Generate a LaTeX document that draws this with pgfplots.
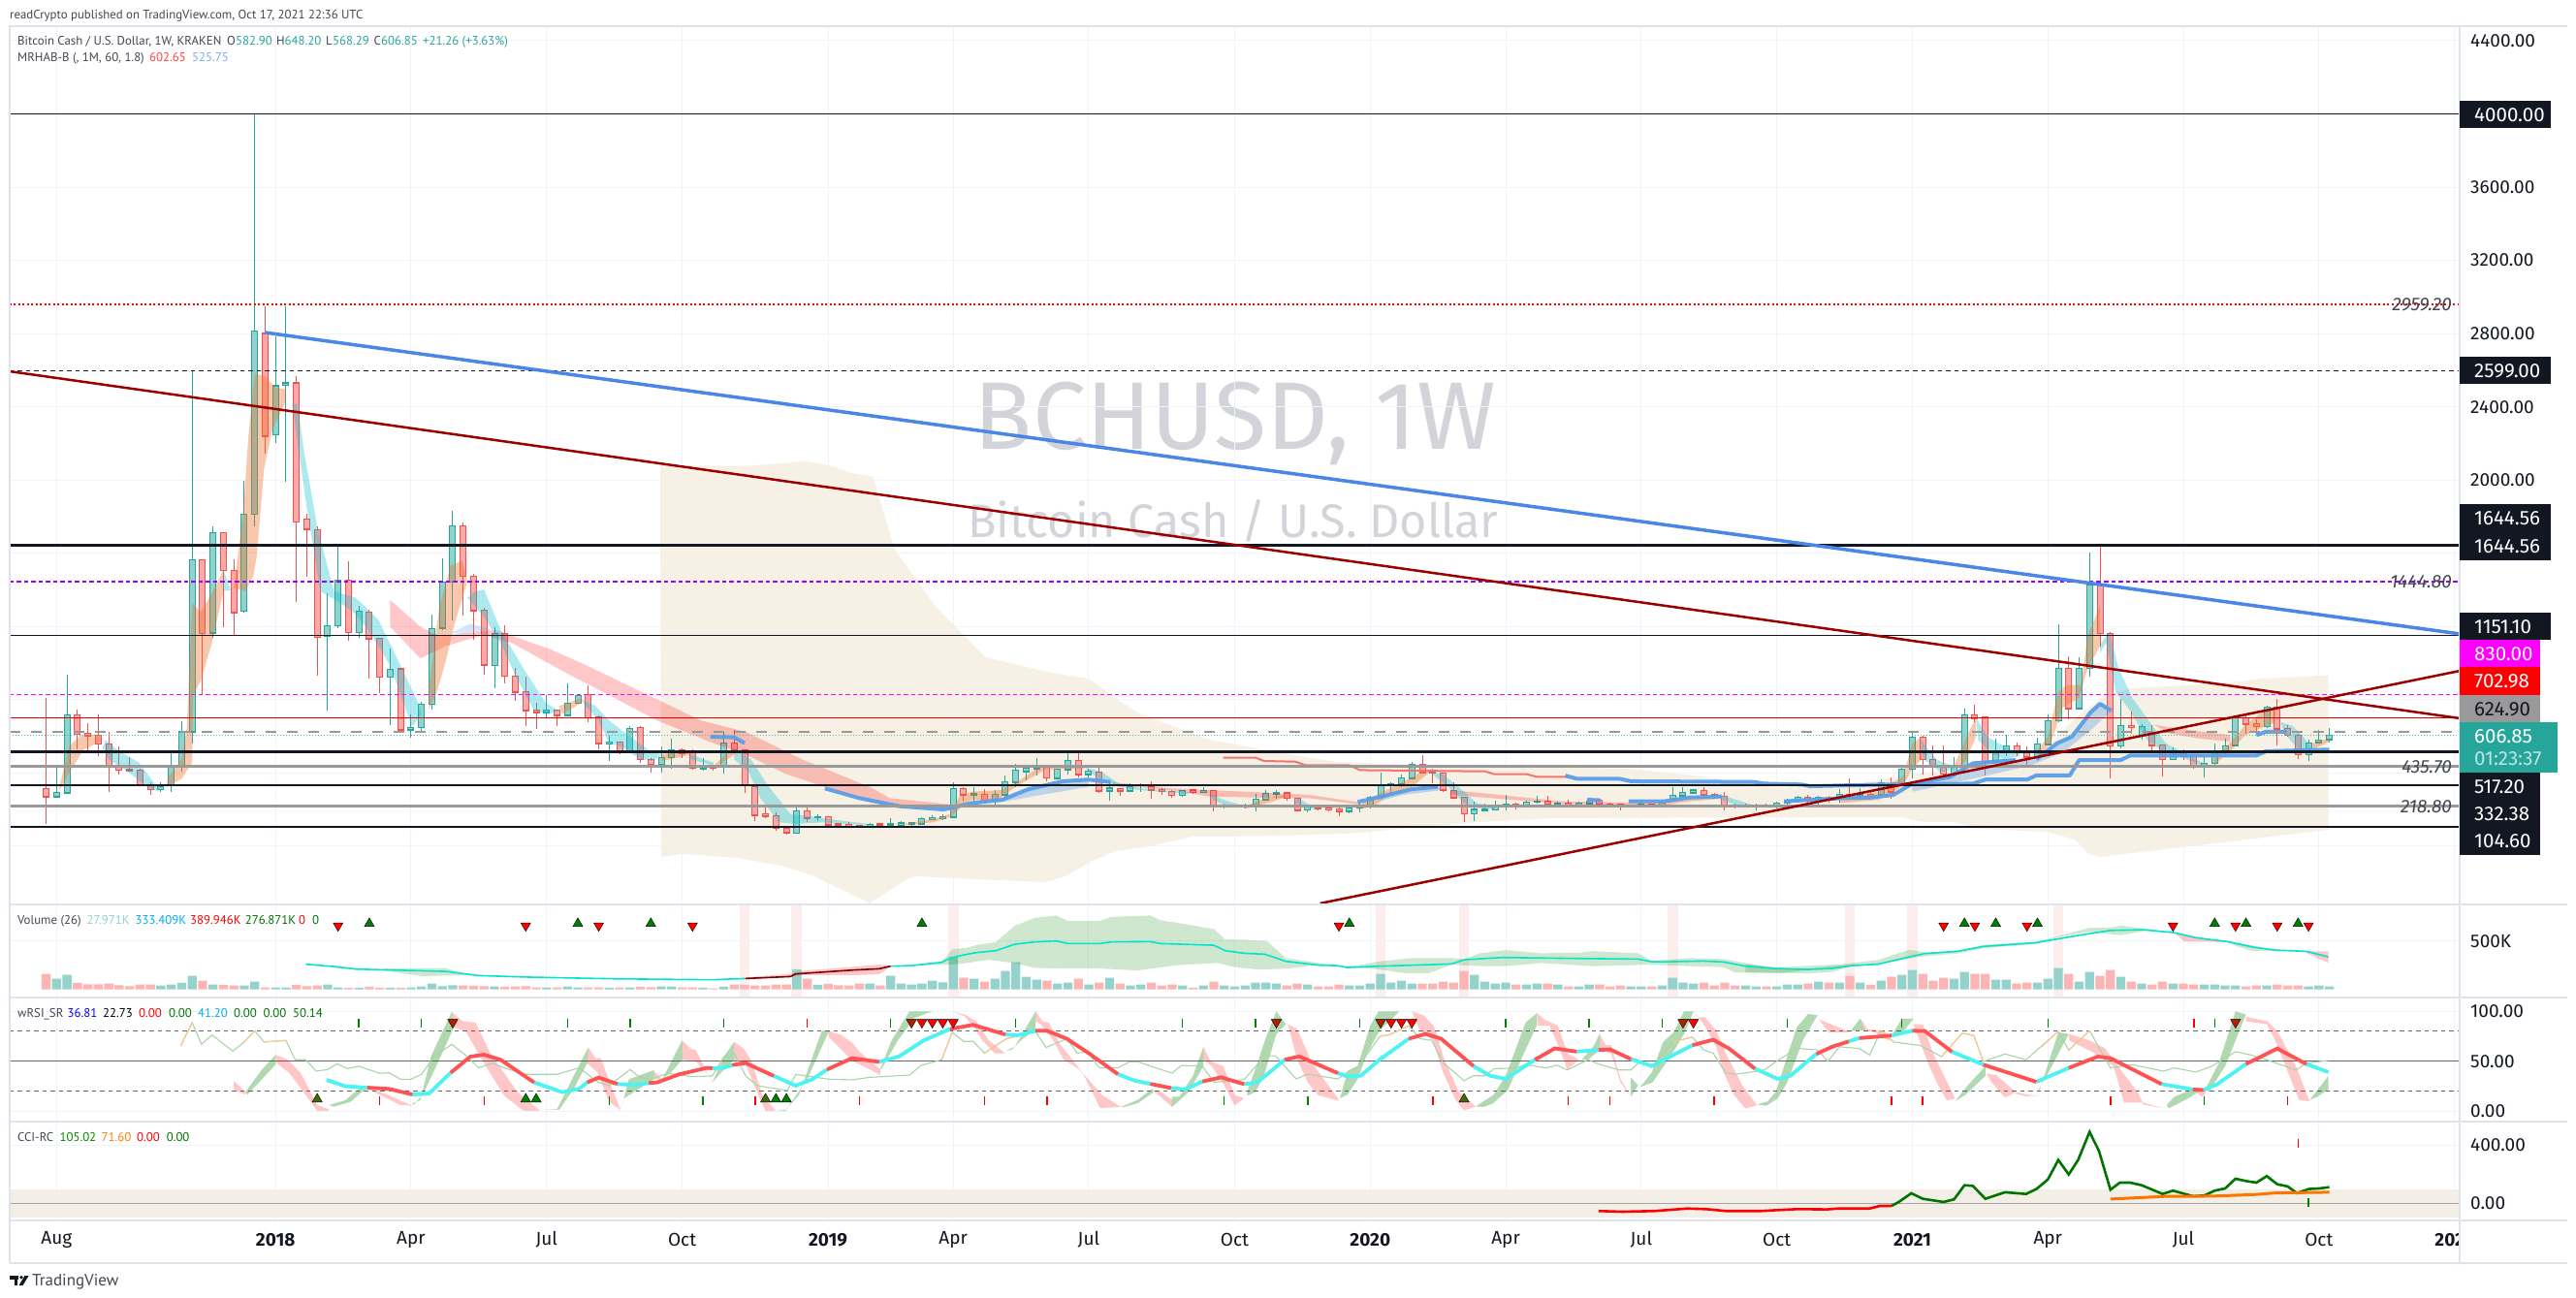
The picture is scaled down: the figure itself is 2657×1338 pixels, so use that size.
\documentclass[border=0pt]{standalone}
\usepackage{pgfplots}
\usepackage{pgfplotstable}
\usepackage{fontspec}
\pgfplotsset{compat=1.18}
\setmainfont{Fira Sans}
\newfontfamily\lgfont{PT Sans}
\definecolor{gridc}{HTML}{F0F3FA}
\definecolor{framec}{HTML}{E0E3EB}
\definecolor{tvg}{HTML}{26A69A}
\definecolor{tvr}{HTML}{EF5350}
\definecolor{bodyg}{HTML}{92D2CC}
\definecolor{bodyr}{HTML}{F9A9A8}
\definecolor{volg}{HTML}{94D2CB}
\definecolor{volr}{HTML}{FBB5B5}
\definecolor{ink}{HTML}{131722}
\definecolor{txt}{HTML}{434651}
\definecolor{orb}{RGB}{240,110,40}
\definecolor{cyb}{RGB}{0,190,210}
\definecolor{blu}{HTML}{5B9EE8}
\definecolor{maroon}{HTML}{9B0000}
\definecolor{tblue}{HTML}{4A86E8}
\definecolor{cloud}{HTML}{F6EFE3}
\definecolor{grline}{HTML}{999999}
\definecolor{rcy}{HTML}{4DF2F2}
\definecolor{rrd}{HTML}{FF5252}
\definecolor{thing}{HTML}{A9D4A9}
\definecolor{olive}{HTML}{3F6A10}
\definecolor{dkr}{HTML}{B02000}
\definecolor{wm}{HTML}{D2D4DA}
\definecolor{stripe}{HTML}{FDEEEE}
\definecolor{cciband}{HTML}{F3EFE7}
\definecolor{purp}{RGB}{155,0,255}
\definecolor{magn}{RGB}{255,0,255}
\definecolor{lred}{RGB}{225,0,0}
\definecolor{macy}{RGB}{0,229,204}

\pgfplotstableread{
i s t b h l v
0 0 316 272 810 122 160
1 1 295 272 431 267 110
2 1 719 293 937 288 150
3 0 719 613 747 528 67
4 0 618 606 673 519 53
5 0 607 560 722 493 53
6 0 560 436 625 298 60
7 0 436 417 546 394 43
8 0 419 413 489 410 33
9 0 417 336 422 334 50
10 0 337 311 351 281 50
11 1 325 311 348 298 40
12 1 443 334 510 298 50
13 1 625 443 683 410 67
14 1 1566 625 2599 563 140
15 0 1566 1163 1566 828 90
16 1 1714 1167 1746 1137 50
17 0 1714 1508 1714 1199 47
18 0 1508 1278 1569 1149 40
19 1 1815 1285 1996 1276 40
20 1 2812 1815 4000 1749 80
21 0 2801 2240 2950 2146 20
22 1 2515 2249 2785 2205 20
23 1 2531 2520 2949 1993 20
24 0 2531 1772 2568 1336 47
25 0 1788 1733 1816 1472 33
26 0 1730 1142 1746 934 40
27 1 1206 1149 1380 743 50
28 1 1455 1206 1640 1193 20
29 0 1455 1169 1557 1125 17
30 1 1285 1169 1313 1137 17
31 0 1280 1135 1292 916 27
32 0 1137 925 1137 837 17
33 1 967 925 1080 664 17
34 0 969 637 973 630 17
35 1 650 637 720 595 20
36 1 777 650 789 630 30
37 1 1190 777 1266 749 60
38 1 1444 1193 1573 1181 33
39 1 1751 1444 1832 1234 43
40 0 1751 1476 1769 1260 40
41 0 1476 1289 1486 1128 37
42 0 1290 992 1305 937 33
43 1 1163 989 1195 863 30
44 0 1163 930 1207 890 27
45 0 930 844 974 794 30
46 0 846 743 927 659 33
47 0 745 733 784 641 20
48 1 745 733 828 699 20
49 0 745 717 745 657 20
50 1 782 717 890 712 30
51 1 824 782 824 779 20
52 0 830 703 879 678 20
53 0 708 563 713 531 20
54 1 570 563 607 466 17
55 0 570 517 570 501 20
56 1 644 521 657 517 20
57 0 650 475 657 454 27
58 0 475 447 484 404 23
59 1 486 447 546 404 30
60 1 528 486 590 422 30
61 0 528 510 533 484 20
62 0 510 427 531 417 20
63 1 431 426 484 413 17
64 0 431 427 440 415 10
65 1 565 440 625 399 27
66 0 565 528 634 519 50
67 0 528 334 528 293 47
68 0 325 171 325 140 40
69 0 178 166 210 152 40
70 0 166 101 184 87 50
71 0 97 76 97 66 50
72 1 194 72 228 69 207
73 0 194 155 210 134 110
74 1 162 157 175 139 47
75 0 161 118 166 113 57
76 0 122 116 127 111 43
77 0 120 113 131 108 40
78 0 115 111 118 108 60
79 1 120 111 125 108 60
80 0 122 118 124 113 40
81 1 122 118 154 116 140
82 1 127 118 139 115 60
83 1 127 122 134 111 50
84 1 152 124 157 116 60
85 1 157 150 171 146 90
86 1 162 155 175 143 73
87 1 316 161 348 157 333
88 0 316 282 325 249 120
89 1 286 282 325 245 110
90 0 284 252 312 236 80
91 1 284 252 307 224 110
92 1 353 281 386 272 190
93 1 417 351 448 325 280
94 1 429 409 443 360 130
95 1 436 425 482 386 100
96 0 431 374 443 355 90
97 1 420 372 425 365 60
98 1 469 420 510 394 70
99 0 469 394 510 378 110
100 1 411 394 425 376 50
101 0 406 304 429 293 70
102 1 318 304 355 249 120
103 0 316 304 319 277 60
104 1 328 304 342 298 40
105 1 337 332 342 298 50
106 0 328 309 355 259 70
107 0 312 300 319 281 40
108 0 300 279 307 266 50
109 1 305 279 307 272 40
110 0 307 298 312 288 17
111 1 305 298 323 295 40
112 0 305 219 307 191 80
113 1 222 217 235 206 40
114 1 222 217 225 210 30
115 1 221 217 231 205 40
116 1 258 217 284 191 70
117 1 289 256 307 249 70
118 1 291 288 307 259 60
119 0 291 263 298 251 40
120 0 263 198 266 189 60
121 1 214 199 228 187 50
122 0 210 206 222 196 30
123 0 210 201 214 192 30
124 0 206 192 210 166 50
125 1 210 192 219 178 40
126 1 215 210 231 187 40
127 1 268 215 277 206 60
128 1 337 268 402 263 160
129 1 342 334 351 291 70
130 1 374 341 394 325 90
131 1 448 372 461 365 60
132 0 448 404 498 395 60
133 0 408 402 422 344 60
134 0 401 307 404 298 80
135 0 305 266 348 259 70
136 0 268 178 272 134 190
137 1 201 178 242 139 150
138 1 201 198 231 192 80
139 1 224 199 249 196 60
140 1 231 224 281 196 70
141 0 231 222 238 203 50
142 1 242 222 249 210 50
143 1 247 242 275 235 60
144 0 247 231 275 224 60
145 1 236 231 245 222 50
146 0 236 224 254 219 30
147 1 236 222 245 217 30
148 1 245 235 263 231 50
149 0 251 231 258 222 50
150 0 231 222 236 215 30
151 0 228 222 231 196 40
152 1 224 221 228 210 30
153 1 231 222 236 214 30
154 0 228 222 231 217 30
155 1 236 224 245 219 40
156 1 279 254 321 242 120
157 1 295 277 323 270 70
158 1 307 293 312 284 60
159 0 305 282 321 266 70
160 0 281 277 289 259 40
161 0 274 224 295 196 70
162 0 226 221 231 206 40
163 1 226 221 231 215 40
164 1 226 222 231 196 30
165 0 226 221 231 212 30
166 1 236 221 242 206 30
167 1 252 236 259 228 50
168 1 268 251 275 242 50
169 0 268 258 281 236 60
170 1 268 254 274 219 80
171 0 268 254 277 236 70
172 1 284 263 312 236 70
173 0 284 277 369 259 140
174 1 286 281 316 254 70
175 0 284 272 298 263 47
176 1 348 284 365 272 90
177 0 342 298 378 259 130
178 1 422 342 443 337 150
179 1 597 422 625 369 200
180 0 597 475 602 390 160
181 0 475 439 551 386 90
182 0 439 395 549 386 120
183 1 443 395 489 392 110
184 1 718 443 754 439 180
185 0 718 701 775 678 160
186 0 704 457 708 386 160
187 1 517 461 589 457 100
188 1 549 517 607 492 100
189 0 549 519 567 492 60
190 0 519 489 545 439 70
191 1 559 492 595 475 70
192 1 687 558 718 554 110
193 1 972 687 1213 678 220
194 0 972 754 1040 695 160
195 1 972 754 1031 748 80
196 1 1428 972 1604 925 180
197 0 1428 1163 1640 1092 140
198 0 1163 549 1172 372 200
199 1 660 549 805 537 130
200 0 660 651 736 616 80
201 1 655 607 669 581 60
202 0 616 552 660 519 50
203 0 554 475 554 383 80
204 1 521 475 542 471 60
205 0 519 492 528 470 60
206 0 496 436 501 425 50
207 1 454 436 492 378 50
208 1 519 454 563 447 50
209 1 549 519 589 510 40
210 1 701 552 713 545 40
211 0 701 669 718 616 30
212 0 669 655 695 607 40
213 1 761 655 766 648 40
214 0 761 642 805 549 50
215 0 642 607 660 598 40
216 0 607 501 616 475 40
217 1 563 501 581 466 30
218 1 581 567 634 563 40
219 1 607 583 648 568 30
}\ohlc

\pgfplotsset{
 tv/.style={scale only axis,width=2527pt,xmin=-3.497,xmax=231.5,
  xtick={1,22,35,48,61,75,87,100,114,127,140,153,166,179,192,205,218,231},
  xticklabels={},grid=major,grid style={draw=gridc,line width=1pt},
  major tick length=0pt,tick style={draw=none},
  axis line style={draw=framec,line width=1.5pt},
  yticklabel pos=right,
  yticklabel style={anchor=west,inner sep=0pt,xshift=11pt,text=ink,font=\fontsize{19}{21}\selectfont},
  clip=true},
 orr/.style={draw=none,fill=orb,fill opacity=.38},
 cyr/.style={draw=none,fill=cyb,fill opacity=.32},
 pkr/.style={draw=none,fill=red,fill opacity=.22},
 blr/.style={color=blu,line width=4pt,opacity=.95,line join=round},
 shd/.style={draw=none,fill=blu,fill opacity=.35},
 gr/.style={draw=none,fill=green!50!black,fill opacity=.3},
 vgr/.style={draw=none,fill=green!50!black,fill opacity=.19},
 rr/.style={draw=none,fill=red,fill opacity=.22},
 tup/.style={only marks,mark=triangle*,mark size=6pt,mark options={draw=none,fill=#1}},
 tdn/.style={only marks,mark=triangle*,mark size=6pt,mark options={draw=none,fill=#1,rotate=180}},
 tic/.style={only marks,mark=|,mark size=4.5pt,mark options={draw=#1,line width=1.5pt}},
 cbar/.style 2 args={draw=none,mark=none,error bars/.cd,y dir=both,y explicit,error mark=none,error bar style={draw=#1,line width=#2}},
}
\newcommand{\isG}{{\thisrow{s}==1 ? \thisrow{i} : nan}}
\newcommand{\isR}{{\thisrow{s}==0 ? \thisrow{i} : nan}}
\newcommand{\T}[4]{\node[anchor=base west,inner sep=0pt,text=#3] at (#1,{1338-#2-5}) {#4};}
\newcommand{\TagT}[5]{\fill[#3] (2537,{1338-#1-14.25}) rectangle ++(#2,28.5);
 \node[anchor=base west,inner sep=0pt,text=#4,font=\fontsize{20.5}{22}\selectfont] at (2552,{1338-#1-7.3}) {#5};}
\newcommand{\Ital}[2]{\node[anchor=base east,inner sep=0pt,text=txt,font=\fontsize{19}{21}\selectfont\itshape] at (2529,{1338-#1-7}) {#2};}

\begin{document}
\begin{tikzpicture}[x=1pt,y=1pt]
\path[use as bounding box] (0,0) rectangle (2657,1338);
\fill[white] (0,0) rectangle (2657,1338);
% watermark
\node[text=wm,font=\fontsize{99}{110}\selectfont] at (1274,{1338-437}) {BCHUSD, 1W};
\node[text=wm,font=\fontsize{48.5}{52}\selectfont] at (1272,{1338-537}) {Bitcoin Cash / U.S. Dollar};

%====== MAIN PANE
\begin{axis}[tv,at={(10pt,405pt)},anchor=south west,height=906pt,ymin=-317.7,ymax=4479.5,
 ytick={0,400,...,4400},
 yticklabels={,,,,,2000.00,2400.00,2800.00,3200.00,3600.00,,4400.00}]
% cloud
\addplot[draw=none,fill=cloud,fill opacity=.9] coordinates {(58.9,2081)(67.1,2077)(73,2102)(75.1,2081)(77.2,2038)(79.3,2019)(81.4,1620)(85.4,1303)(90.1,1033)(96.4,948)(100,916)(102.9,794)(105,722)(111.6,582)(115,546)(121.1,483)(123.9,461)(128.9,450)(138,440)(151.8,424)(157.9,387)(165.5,325)(172.3,320)(179,397)(185.3,424)(190.9,503)(192,545)(194.7,704)(197.4,821)(200,863)(205.9,881)(210.4,900)(212.7,916)(218.9,934)(218.9,90)(197,-58)(195.8,-37)(194.7,33)(192,79)(185.3,95)(183,132)(179.7,134)(178.1,159)(172.3,159)(170.4,159)(144.7,154)(137.3,132)(124.8,69)(116.5,55)(110,53)(105.8,0)(102.5,-26)(100,-90)(97.9,-159)(95.9,-196)(87.2,-175)(83.4,-164)(82.6,-178)(79,-311)(73.5,-159)(70.5,-106)(66.4,-64)(61,-41)(59,-58)} --cycle;
% candles: wicks
\addplot[cbar={tvg}{1pt}] table[x expr=\isG,y=l,y error plus expr=\thisrow{h}-\thisrow{l},y error minus expr=0]{\ohlc};
\addplot[cbar={tvr}{1pt}] table[x expr=\isR,y=l,y error plus expr=\thisrow{h}-\thisrow{l},y error minus expr=0]{\ohlc};
% candles: body edge
\addplot[cbar={tvg}{7pt}] table[x expr=\isG,y=b,y error plus expr=\thisrow{t}-\thisrow{b}+3,y error minus expr=3]{\ohlc};
\addplot[cbar={tvr}{7pt}] table[x expr=\isR,y=b,y error plus expr=\thisrow{t}-\thisrow{b}+3,y error minus expr=3]{\ohlc};
% candles: body fill
\addplot[cbar={bodyg}{5pt}] table[x expr=\isG,y expr=\thisrow{b}+3,y error plus expr={max(\thisrow{t}-\thisrow{b}-6,0)},y error minus expr=0]{\ohlc};
\addplot[cbar={bodyr}{5pt}] table[x expr=\isR,y expr=\thisrow{b}+3,y error plus expr={max(\thisrow{t}-\thisrow{b}-6,0)},y error minus expr=0]{\ohlc};
% pink ribbons
\addplot[pkr] coordinates {(33,1345)(35.9,1199)(37.7,1146)(39.9,1163)(43.1,1181)(48.4,1075)(52.2,978)(58.6,802)(62.8,687)(67.1,625)(72.5,475)(79.3,316)(80.9,263)(86.7,228)(85.9,210)(82.6,210)(79.3,236)(70.9,396)(67.1,501)(64,563)(58.6,687)(54.8,802)(50,943)(44.7,1110)(42,1155)(38.3,1093)(35.9,1026)(33,1199)} --cycle;
\addplot[pkr] coordinates {(102.1,351)(107.9,316)(116.2,295)(121.1,281)(126,240)(126,228)(121.1,263)(116.2,266)(111.6,272)(107.9,307)(102.5,334)} --cycle;
\addplot[pkr] coordinates {(134.7,307)(138,289)(145.5,245)(154.7,236)(154.7,224)(145.5,231)(138,266)(134.7,281)} --cycle;
\addplot[pkr] coordinates {(202.1,665)(204.6,642)(209.5,607)(209.5,572)(206.4,589)(203.7,616)} --cycle;
% orange ribbons
\addplot[orr] coordinates {(1.2,307)(2.2,546)(3.3,607)(5.2,607)(5.2,572)(3.6,528)(2.8,457)(1.2,298)} --cycle;
\addplot[orr] coordinates {(11.6,369)(13,475)(13.5,652)(14,1331)(14.8,1278)(16,1393)(17,1508)(17,1393)(15.9,1110)(14.8,899)(14.1,828)(14,457)(13,369)(11.6,325)} --cycle;
\addplot[orr] coordinates {(18,1410)(18.9,1816)(19.4,2240)(20,2584)(21,2567)(22,2505)(23,2496)(23,2434)(21.7,2275)(20.9,2063)(20.2,1587)(19.9,1481)(19.1,1393)} --cycle;
\addplot[orr] coordinates {(36.7,863)(37.7,1305)(38.8,1534)(39.9,1560)(40.4,1446)(39.1,1199)(38.3,1005)(37.5,846)(36.7,749)} --cycle;
\addplot[orr] coordinates {(49.2,766)(51.4,810)(51.4,784)(49.5,722)} --cycle;
\addplot[orr] coordinates {(59,501)(61.8,519)(61.8,501)(59.1,466)} --cycle;
\addplot[orr] coordinates {(64.2,449)(66,546)(66,501)(64.2,431)} --cycle;
\addplot[orr] coordinates {(80.9,122)(82.6,125)(85.1,148)(86.7,175)(87.6,272)(88.8,298)(91.7,307)(93.4,360)(95,425)(97.5,439)(99.2,439)(99.6,422)(97.5,422)(95.9,422)(94.6,378)(93,325)(91.3,254)(88.8,254)(88,228)(86.9,166)(85.1,131)(82.6,118)} --cycle;
\addplot[orr] coordinates {(115,219)(116.6,254)(118.7,281)(118.7,263)(116.6,228)(115,206)} --cycle;
\addplot[orr] coordinates {(125.8,219)(127,263)(128.9,316)(130.8,369)(132,413)(132.7,404)(131,325)(128.9,281)(127.3,219)(125.8,201)} --cycle;
\addplot[orr] coordinates {(154.7,236)(158,272)(160.5,272)(160.5,259)(157.6,245)(155.1,224)} --cycle;
\addplot[orr] coordinates {(172.1,254)(175.8,298)(176.8,342)(178.1,378)(179,563)(179.7,589)(179.9,475)(179,422)(178.1,334)(176.8,281)(175.8,254)(172.1,236)} --cycle;
\addplot[orr] coordinates {(183,439)(184.2,598)(185.1,704)(185.1,598)(184.2,475)(183.5,422)} --cycle;
\addplot[orr] coordinates {(190.9,519)(192,598)(193,845)(193.8,881)(195.2,881)(195.8,1145)(197,1313)(197,1093)(195.8,969)(195,810)(193.4,757)(192.3,563)(191.1,492)} --cycle;
\addplot[orr] coordinates {(208,475)(210,598)(210.9,660)(212.7,740)(213.8,757)(213.8,678)(212.7,651)(210.9,607)(209.5,519)(208,448)} --cycle;
\addplot[orr] coordinates {(217.4,563)(219,589)(219,572)(217.4,528)} --cycle;
% cyan ribbons
\addplot[cyr] coordinates {(5.7,581)(7,519)(8.9,457)(10.5,334)(10.8,298)(9.7,325)(7.9,404)(6,475)(5.4,537)} --cycle;
\addplot[cyr] coordinates {(17,1508)(17.7,1400)(17,1393)} --cycle;
\addplot[cyr] coordinates {(24.1,2416)(24.8,2134)(26,1746)(27.6,1393)(29.7,1358)(31.9,1234)(33.7,1022)(35.6,793)(36,722)(35.1,652)(33,987)(31.1,1163)(29.7,1269)(27.9,1340)(26.3,1393)(24.9,1887)(23.6,2416)} --cycle;
\addplot[cyr] coordinates {(41.2,1393)(42,1402)(43.6,1181)(45.8,969)(47.9,784)(49.2,740)(48.2,722)(46.8,740)(45,934)(43.6,1110)(42,1252)(40.4,1358)} --cycle;
\addplot[cyr] coordinates {(51.4,802)(52.7,766)(54,687)(56,599)(58,519)(59,501)(58.3,466)(57,475)(55.1,546)(54,563)(53,687)(51.6,775)} --cycle;
\addplot[cyr] coordinates {(61.8,501)(64,457)(64,440)(61.8,475)} --cycle;
\addplot[cyr] coordinates {(66,537)(67.6,475)(69.2,334)(71.4,175)(73,166)(75.1,148)(78.9,122)(78.9,113)(74.6,131)(71.9,122)(70.3,131)(68.5,263)(67.4,404)(66,475)} --cycle;
\addplot[cyr] coordinates {(99.6,431)(101.3,404)(102.9,342)(105,316)(109.6,295)(109.6,284)(105,307)(102.9,325)(101.3,351)(100,413)} --cycle;
\addplot[cyr] coordinates {(111.6,289)(112.9,254)(115,219)(115,210)(112.9,228)(111.9,254)} --cycle;
\addplot[cyr] coordinates {(120,266)(121.9,201)(121.9,196)(119.8,236)} --cycle;
\addplot[cyr] coordinates {(132,413)(133.9,395)(136,298)(137.2,236)(138.9,219)(138.9,201)(137.2,210)(136,236)(134.3,334)(132.9,395)} --cycle;
\addplot[cyr] coordinates {(160.5,284)(162.1,254)(163.8,224)(165.5,214)(165.5,210)(162.1,224)(160.5,259)} --cycle;
\addplot[cyr] coordinates {(179.7,589)(181.3,475)(182,457)(183,439)(183,422)(181.7,404)(180.1,475)} --cycle;
\addplot[cyr] coordinates {(185.1,704)(186.2,598)(187.8,545)(189.3,510)(189.3,492)(187.8,475)(186.6,510)(185.3,581)} --cycle;
\addplot[cyr] coordinates {(197,1101)(197.9,1172)(198.8,969)(200.1,810)(201.9,669)(203.3,563)(205,510)(206.8,457)(206.8,439)(204.6,492)(202.8,528)(201.5,581)(199.9,740)(198.5,845)(197.6,1110)(197,1057)} --cycle;
\addplot[cyr] coordinates {(214.3,678)(215.4,660)(216.5,598)(217.4,528)(216.7,510)(215.8,545)(214.7,616)} --cycle;
% blue shades
\addplot[draw=none,fill=blu,fill opacity=.25] coordinates {(38.8,1163)(40.7,1216)(42.8,1181)(39.9,1163)} --cycle;
\addplot[shd] coordinates {(179,342)(182.6,378)(184.8,453)(188.9,471)(190.9,475)(192.9,563)(194.3,598)(196.1,731)(197,778)(198.1,740)(196.1,634)(193.4,510)(190.2,439)(184.8,369)(179,298)} --cycle;
\addplot[shd] coordinates {(88.8,236)(91.7,254)(94.2,311)(97.5,355)(100,364)(100,325)(95.5,281)(91.7,242)} --cycle;
\addplot[shd] coordinates {(128.1,272)(131,312)(133.5,325)(133.9,307)(130.2,281)(127.7,245)} --cycle;
% thin salmon
\addplot[color=tvr!80,line width=2pt] coordinates {(112.9,484)(116,484)(116.8,466)(119.8,462)(120.8,443)(125,443)(126,416)(138,409)(138.9,394)(142,394)(143,379)(146,379)};
% blue thick
\addplot[blr] coordinates {(63.7,598)(66,595)(67,563)};
\addplot[blr] coordinates {(74.7,316)(78,263)(81.8,219)(86.1,201)(88.8,236)(91.7,254)(94.2,311)(97.5,355)(100,364)(102.1,351)};
\addplot[blr] coordinates {(125.8,242)(128.1,272)(131,312)(133.5,325)};
\addplot[blr] coordinates {(145.7,386)(146.8,369)(150.9,369)(152,355)(163.8,351)(164.8,342)(168.4,337)(169.2,328)(176.2,337)(184.8,342)(186,364)(190,364)(190.9,387)(194.1,387)(195,471)(199,471)(199.9,496)(212,496)(212.9,519)(219,528)};
\addplot[blr] coordinates {(147.8,254)(149.1,251)};
\addplot[blr] coordinates {(151.8,245)(155.1,245)(157.6,266)(160.7,272)};
\addplot[blr] coordinates {(166.7,245)(169.2,254)(172.5,263)(175,266)(177.2,281)(179,342)(182.6,378)(184.8,453)(188.9,471)};
\addplot[blr] coordinates {(190.9,475)(192.9,563)(194.3,598)(196.1,731)(197,778)(198.1,740)};
\addplot[blr] coordinates {(212,607)(212.9,625)(214.9,625)};
% horizontal levels
\addplot[color=ink,line width=1.5pt] coordinates {(-3.5,4000)(231.5,4000)};
\addplot[color=red,line width=1.6pt,dash pattern=on 2pt off 2.5pt] coordinates {(-3.5,2959.2)(231.5,2959.2)};
\addplot[color=ink,line width=1.2pt,dash pattern=on 4.5pt off 4pt] coordinates {(-3.5,2599)(231.5,2599)};
\addplot[color=ink,line width=2.5pt] coordinates {(-3.5,1644.56)(231.5,1644.56)};
\addplot[color=purp,line width=1.3pt,dash pattern=on 4.5pt off 3pt] coordinates {(-3.5,1444.8)(231.5,1444.8)};
\addplot[color=ink,line width=1.4pt] coordinates {(-3.5,1151.1)(231.5,1151.1)};
\addplot[color=magn,line width=1.3pt,dash pattern=on 4.5pt off 3pt] coordinates {(-3.5,830)(231.5,830)};
\addplot[color=lred,line width=1.4pt] coordinates {(-3.5,702.98)(231.5,702.98)};
\addplot[color=grline,line width=2.5pt,dash pattern=on 11pt off 11pt] coordinates {(-3.5,624.9)(231.5,624.9)};
\addplot[color=tvg!80,line width=1pt,dash pattern=on 1pt off 2pt] coordinates {(-3.5,606.85)(231.5,606.85)};
\addplot[color=ink,line width=2.5pt] coordinates {(-3.5,517.2)(231.5,517.2)};
\addplot[color=grline,line width=2.5pt] coordinates {(-3.5,435.7)(231.5,435.7)};
\addplot[color=ink,line width=2.5pt] coordinates {(-3.5,332.38)(231.5,332.38)};
\addplot[color=grline,line width=2.5pt] coordinates {(-3.5,218.8)(231.5,218.8)};
\addplot[color=ink,line width=2.5pt] coordinates {(-3.5,104.6)(231.5,104.6)};
% trend lines
\addplot[color=maroon,line width=2.5pt] coordinates {(-3.497,2594)(231.5,699)};
\addplot[color=tblue,line width=3.5pt] coordinates {(21,2806)(231.5,1160)};
\addplot[color=maroon,line width=2.5pt] coordinates {(122.2,-312)(231.5,958)};
\end{axis}

%====== VOLUME PANE
\begin{axis}[tv,at={(10pt,309pt)},anchor=south west,height=96pt,ymin=-83,ymax=877,ytick={500},yticklabels={500K}]
\addplot[cbar={stripe}{10.75pt}] coordinates {(67,397)+-(0,480)(72,397)+-(0,480)(87,397)+-(0,480)(128,397)+-(0,480)(136,397)+-(0,480)(156,397)+-(0,480)(173,397)+-(0,480)(179,397)+-(0,480)(193,397)+-(0,480)};
\addplot[ybar,bar width=9.3pt,bar shift=0pt,draw=none,fill=volg] table[x expr=\isG,y=v]{\ohlc};
\addplot[ybar,bar width=9.3pt,bar shift=0pt,draw=none,fill=volr] table[x expr=\isR,y=v]{\ohlc};
% bands
\addplot[vgr] coordinates {(32.4,216)(38.3,220)(39.9,170)(41.5,143)(38.3,143)(36.1,137)(32.4,193)} --cycle;
\addplot[rr] coordinates {(27.6,245)(29.7,220)(29.7,205)(27.6,225)} --cycle;
\addplot[rr] coordinates {(67.1,126)(71.4,160)(72.5,193)(77.4,233)(79.9,256)(81,243)(81,235)(79.9,157)(77.4,146)(72.5,150)(70.9,126)(67.1,103)} --cycle;
\addplot[vgr] coordinates {(83,246)(85.9,280)(86.9,413)(88.3,430)(89.2,456)(91.1,490)(92.9,656)(94.8,739)(96.9,763)(98,706)(101,706)(102.2,749)(105.9,763)(106.9,713)(108.4,689)(112,623)(113.1,516)(114.9,513)(115.8,506)(117.1,500)(118.9,323)(122.1,273)(124.8,226)(122.1,256)(118.9,213)(116.2,206)(114,230)(112.4,273)(108.4,250)(104.7,196)(101,216)(97.3,216)(94.8,223)(92.9,273)(90.4,306)(88.3,273)(86.7,256)} --cycle;
\addplot[vgr] coordinates {(124.84,230)(127.9,290)(131,323)(134.8,323)(136,313)(137.5,373)(140,406)(143.4,373)(147.2,380)(148.4,396)(152.7,373)(154,296)(157.7,323)(160.9,313)(163,273)(165.8,223)(168.9,213)(171.3,240)(173.2,256)(173.2,240)(171.3,180)(168.9,166)(165.8,173)(162,173)(160.9,230)(157.7,240)(154,256)(148.4,240)(143.4,273)(140,240)(137.5,240)(134.8,256)(132.6,166)(130.4,166)(127.9,206)} --cycle;
\addplot[vgr] coordinates {(163,260)(166,226)(172.1,260)(175.7,303)(178.7,410)(180.2,383)(183.3,393)(185.8,460)(190.9,490)(194.5,593)(196,636)(198,636)(199,659)(202.1,616)(204.1,586)(201.6,609)(199,559)(196,593)(193,543)(190.9,470)(185.8,426)(183.3,370)(179.7,336)(175.7,260)(172.1,226)(169.6,210)(166.5,166)(163,176)} --cycle;
\addplot[vgr] coordinates {(209.7,493)(213.8,410)(216.8,396)(213.8,400)(211.7,393)(209.7,460)} --cycle;
\addplot[rr] coordinates {(204.1,586)(207.2,526)(209.7,493)(209.7,483)(207.2,493)(205.1,493)} --cycle;
\addplot[rr] coordinates {(216.8,393)(218.9,393)(218.9,276)(216.8,376)} --cycle;
% MA
\addplot[color=macy,line width=1.6pt] coordinates {(24.9,260)(27.6,236)(29.7,210)(38.3,186)(41.5,143)(46.3,127)(54.3,110)(63.9,100)(67.1,113)};
\addplot[color=maroon!80!black,line width=1.6pt] coordinates {(67.1,113)(71.4,133)(71.9,160)(77.4,200)(79.9,213)(81,240)};
\addplot[color=macy,line width=1.6pt] coordinates {(81,240)(83,246)(85.9,280)(86.7,323)(88,356)(89.2,380)(91.1,400)(92.9,466)(94.8,490)(96.9,500)(98,473)(101,473)(102.2,490)(105.9,493)(106.9,473)(112,456)(113.1,400)(114.9,373)(116.9,363)(118.9,290)(122.1,250)(123.9,246)(124.8,226)(127.9,240)(131,250)(134.8,263)(136,306)(139.7,330)(146.5,320)(152.7,313)(154,286)(155.8,286)(158.9,293)(160.9,283)(163,240)(165.8,216)(168.9,206)(171.3,216)(173.2,246)(175.7,260)(178.7,336)(180.2,370)(183.3,393)(185.8,443)(190.9,483)(194.5,550)(198,609)(201.1,616)(204.1,586)(206.2,533)(209.2,493)(211.7,436)(213.8,406)(216.8,393)(218.9,336)};
% signals
\addplot[tup={green!50!black},mark size=5.8pt] coordinates {(31,680)(51,680)(58,680)(84,680)(125,680)(184,680)(187,680)(191,680)(208,680)(211,680)(216,680)};
\addplot[tdn=red,mark size=5.8pt] coordinates {(28,657)(46,657)(53,657)(62,657)(124,657)(182,657)(185,657)(190,657)(204,657)(210,657)(214,657)(217,657)};
\end{axis}

%====== RSI PANE
\begin{axis}[tv,at={(10pt,181pt)},anchor=south west,height=128pt,ymin=-10.4,ymax=113.9,ytick={0,50,100},yticklabels={0.00,50.00,100.00}]
% reference lines
\addplot[color=black!60,line width=1.3pt] coordinates {(-3.5,50)(231.5,50)};
\addplot[color=black!60,line width=1.1pt,dash pattern=on 4.5pt off 4pt] coordinates {(-3.5,80.6)(231.5,80.6)};
\addplot[color=black!60,line width=1.1pt,dash pattern=on 4.5pt off 4pt] coordinates {(-3.5,20)(231.5,20)};
% ribbons
\addplot[rr] coordinates {(18,30.4)(19.1,19.1)(19.1,16.5)(18,21.7)} --cycle;
\addplot[gr] coordinates {(19.1,19.1)(20.7,41.7)(22,56.3)(22,46.6)(20.7,32)(19.3,16.5)} --cycle;
\addplot[rr] coordinates {(22,56.3)(23.1,52.1)(24.4,38.5)(26,6.1)(27.1,1.9)(27.1,0.3)(26,0.3)(24.7,19.1)(23.3,38.5)(22.1,48.2)} --cycle;
\addplot[gr] coordinates {(27.1,6.1)(28.7,11)(30.3,25)(30.8,23.9)(29.2,9.4)(27.6,4.5)} --cycle;
\addplot[rr] coordinates {(30.8,23.9)(32.9,15.9)(35.1,5.5)(34,6.1)(32.4,14.2)(31.1,21.7)} --cycle;
\addplot[gr] coordinates {(35.1,7.8)(35.9,11)(36.9,54.7)(38.9,99.4)(39.1,83.8)(37.7,51.5)(36.1,15.9)(35.2,6.1)} --cycle;
\addplot[rr] coordinates {(38.9,99.4)(39.9,90.3)(41.2,88.7)(42.6,57.9)(45.2,19.1)(47.4,0.3)(45.8,0.3)(43.9,15.9)(42,48.2)(40.2,80.6)(39.1,83.8)} --cycle;
\addplot[gr] coordinates {(47.4,1.3)(49,1.9)(50.6,35.3)(52,63.8)(51.9,48.2)(50.6,22.3)(49.2,1.3)} --cycle;
\addplot[rr] coordinates {(52,63.8)(52.7,53.1)(53.2,53.1)(54.3,22.3)(55.1,1.3)(54,9.4)(52.9,38.5)(51.9,48.2)} --cycle;
\addplot[gr] coordinates {(55.1,1.3)(55.9,32)(58.3,41.1)(58.3,32)(55.4,12.6)} --cycle;
\addplot[rr] coordinates {(58.3,40)(59.1,32)(58.3,32)} --cycle;
\addplot[gr] coordinates {(59.1,32)(61,70.9)(61,51.5)(59.9,38.5)} --cycle;
\addplot[rr] coordinates {(61,70.9)(61.8,62.8)(62.3,61.2)(63.9,28.8)(63.4,38.5)(62.3,49.8)(61,51.5)} --cycle;
\addplot[gr] coordinates {(63.9,28.8)(65,54.7)(66,69.3)(66,51.5)(65,41.7)} --cycle;
\addplot[rr] coordinates {(66,69.3)(66.9,62.8)(67.6,51.5)(68.7,15.9)(70,0.3)(69,0.3)(68.2,19.1)(67.1,46.6)(66,51.5)} --cycle;
\addplot[gr] coordinates {(70,1.3)(70.9,1.3)(72.2,15.9)(74.4,80.6)(75.1,80.6)(73,32)(70.9,0.3)} --cycle;
\addplot[rr] coordinates {(75,80.6)(76.2,76.7)(77.4,67.7)(78,59.7)(80,41.9)(80,36.1)(79,41.9)(77.4,50)(75.1,74.1)} --cycle;
\addplot[gr] coordinates {(80,41.9)(81.1,70.9)(82.8,100)(85,100)(83.3,93.5)(81.7,71)(80.1,41.9)} --cycle;
\addplot[rr] coordinates {(87,100)(88.1,96.8)(89.2,90.3)(90.4,71)(92,58)(91,58)(89.8,71)(89,83.9)(88.1,95)} --cycle;
\addplot[gr] coordinates {(92.1,60.6)(92.9,64.5)(94.9,100)(94.9,82)(93.5,71)(92.6,61.3)} --cycle;
\addplot[rr] coordinates {(94.9,100)(95.6,89.7)(96.2,88.7)(97.2,67.7)(99.4,38.7)(101.1,3.2)(103.1,4.2)(101.3,16.1)(99.1,41.9)(97.6,51.6)(96.6,71)(95.4,87)(94.9,90.3)} --cycle;
\addplot[gr] coordinates {(103.1,4.2)(104.7,11.3)(106.1,22.6)(106.2,18.7)(104.7,8)(103.4,4.2)} --cycle;
\addplot[rr] coordinates {(106.1,21)(106.9,19.4)(108,11.3)(108,4.2)(106.9,14.5)} --cycle;
\addplot[gr] coordinates {(108,4.2)(108,14.5)(108.7,14.5)(110,35.5)(111,64.5)(111,45.2)(109.6,19.4)} --cycle;
\addplot[rr] coordinates {(111,64.5)(111.7,50)(112.9,45.2)(114,16.1)(114.9,12.9)(114,5.8)(113,25.8)(111.8,45.2)(111,51.6)} --cycle;
\addplot[gr] coordinates {(115.2,19.4)(116.2,48.4)(116.9,71)(118,100)(118.9,87.1)(118,77.4)(116.8,35.5)(116,19.4)(115.2,15.5)} --cycle;
\addplot[rr] coordinates {(119.1,87)(120,82.3)(121.4,48.4)(123.9,12.9)(124,10.3)(122,16.1)(121,29)(120,51.6)} --cycle;
\addplot[gr] coordinates {(124.1,12.9)(124.84,40.3)(125.8,45.2)(127,85.5)(127.8,100)(129.8,100)(127.9,80.6)(126.7,58)(125.8,32.3)(124.84,16.8)} --cycle;
\addplot[rr] coordinates {(131,100)(132.1,96.1)(133.1,85.5)(134.1,51.6)(135.5,19.4)(137.1,4.8)(136,0.6)(135.1,12.9)(134,38.7)(133,71)(131.8,80.6)} --cycle;
\addplot[gr] coordinates {(137.1,4.8)(138.8,16.1)(140,35.5)(141.9,88.7)(143,98.4)(143,86.5)(141.6,54.8)(140.2,21)(138.8,8)(137.9,4.2)} --cycle;
\addplot[rr] coordinates {(143,98.4)(143.7,91.9)(145,85.5)(145.9,58)(147,51.6)(145.9,41.3)(145.1,64.5)(144.2,85.5)(143.1,85.5)} --cycle;
\addplot[gr] coordinates {(147.3,51.6)(148.4,64.5)(149,77.4)(149,61.3)(147.9,51.6)} --cycle;
\addplot[rr] coordinates {(149,77.4)(149.6,66.1)(150.1,66.1)(151,32.3)(152,14.5)(151,29)(150.1,58)(149,61.3)} --cycle;
\addplot[gr] coordinates {(152,33.9)(152.7,25.8)(152,14.5)} --cycle;
\addplot[gr] coordinates {(152.9,24.2)(154,38.7)(155.1,69.4)(156.1,79)(157.1,100)(158,100)(157.1,77.4)(155.8,54.8)(154.1,29)} --cycle;
\addplot[rr] coordinates {(158,100)(158.5,94.2)(159.1,94.2)(160.2,80.6)(161.1,58)(162.7,25.8)(164.1,5.8)(163,2.6)(161.9,16.1)(160.9,38.7)(160.2,64.5)(159.1,85.5)(158.5,93.5)} --cycle;
\addplot[gr] coordinates {(164.1,6.5)(165.1,9.7)(165.9,19.4)(167,54.8)(167.9,83.9)(169,97.4)(169.9,96.1)(168.5,71)(167,29)(166.1,12.9)(165,5.5)} --cycle;
\addplot[rr] coordinates {(170.1,91.9)(173.1,79)(171,79)(170.6,83.9)} --cycle;
\addplot[gr] coordinates {(173.1,80.6)(174,92.9)(174.4,81.2)(173.5,80.6)} --cycle;
\addplot[rr] coordinates {(174,92.9)(174.7,82.2)(176.2,80.6)(177,74.1)(176.7,70.9)(175.4,79)(174.4,80.6)} --cycle;
\addplot[gr] coordinates {(177.2,79)(178,92.6)(179.1,92.6)(178.2,80.6)(177.2,74.8)} --cycle;
\addplot[rr] coordinates {(179.1,87)(180,87)(181,57.9)(183.1,12.6)(182.3,11)(181.5,25.6)(180.5,48.2)(179.7,70.9)} --cycle;
\addplot[gr] coordinates {(183.1,10)(184.3,25.6)(186,45)(186,35.3)(184.1,16.5)} --cycle;
\addplot[rr] coordinates {(186.1,37.9)(187.1,35.9)(188.9,19.1)(187.9,13.6)(186.6,28.8)} --cycle;
\addplot[rr] coordinates {(188.9,19.1)(190.4,15.9)(191.4,15.9)(189.9,14.9)(188.9,17.5)} --cycle;
\addplot[gr] coordinates {(191.2,20.7)(193,79)(194,77.3)(192.2,41.7)(191,19.1)} --cycle;
\addplot[rr] coordinates {(194,77.3)(196,70.9)(197.5,62.8)(198.5,48.2)(200.6,19.1)(201.1,8.7)(199.3,8.7)(198.3,45)(196.5,57.9)(194.7,67.6)(194,70.9)} --cycle;
\addplot[rr] coordinates {(201.1,8.7)(203.1,2.9)(201.1,6.8)} --cycle;
\addplot[gr] coordinates {(203.4,6.1)(204.1,14.2)(205.9,22.3)(206.7,21.7)(205.7,14.2)(203.6,2.9)} --cycle;
\addplot[rr] coordinates {(205.9,22.3)(207.2,19.1)(206.8,14.2)} --cycle;
\addplot[gr] coordinates {(207.2,23.9)(208.4,48.2)(210,100)(211,96.8)(209,45)(207.4,19.1)} --cycle;
\addplot[rr] coordinates {(211,94.5)(213,90.3)(214,80.6)(215.8,45)(217.1,10)(216.1,11)(214.8,45)(213.8,70.9)(213,87.1)(211,90)} --cycle;
\addplot[gr] coordinates {(217.1,11)(218.9,35.3)(218.9,21.7)(217.8,14.2)} --cycle;
% thin line
\addplot[color=thing,line width=1.1pt] coordinates {(12.9,65.4)(14,88.7)(14.9,67)(15.9,76.4)(17.9,60.2)(19,69.3)(20,80.6)(20.9,69.3)(23,70.9)(23.9,51.5)(24.9,51.5)(25.9,40.1)(27,41.7)(27.9,47.6)(28.9,42.7)(30,45)(32,37.9)(32.9,38.5)(34,32)(35,32)(36,36.9)(37.2,54.7)(38.9,67)(40.2,56.3)(41.5,43.4)(42.8,48.2)(43.9,43.4)(46,36.9)(49,36.9)(51.1,43.4)(53,28.8)(54,25.6)(56,41.7)(57,33.7)(58,32)(59.6,37.9)(62,34.6)(63.9,35.3)(65,54.7)(66,57.9)(67.1,35.3)(68.2,25.6)(71.1,20.7)(71.9,36.9)(75.1,32)(77.3,31.4)(79,33.9)(82.8,36.1)(83.9,45.8)(85.9,51.6)(86.9,79)(88,70)(88.9,70)(90,58.1)(92.1,72.6)(94.9,79.7)(95.9,63.9)(97.9,72.6)(98.9,58.1)(99.9,59.7)(101,43.5)(102.8,43.5)(103.9,49.4)(104.8,49.4)(105.9,45.2)(108,38.1)(108.9,45.8)(110.9,45.2)(112,29)(114.9,31.6)(116.9,55.5)(117.9,55.5)(119.9,32.3)(121,37.1)(123.9,32.3)(125,40.3)(125.9,45.2)(127.9,74.8)(128.9,76.8)(130.7,85.5)(131.8,72.6)(132.9,71)(134,48.4)(136,30.6)(136.9,35.5)(138,35.5)(138.9,42.6)(141,43.2)(141.9,46.8)(143.9,43.2)(144.9,46.1)(145.9,41.3)(147.9,51.6)(149,46.8)(150.9,41.3)(152,41.3)(152.9,50)(154.1,45.2)(156,69.4)(157.9,74.2)(159,61.3)(159.9,58.1)(161.1,38.1)(162.2,37.1)(164.8,41.3)(165.9,49.4)(167.9,62.9)(169.9,61.3)(170.9,50)(172,64.5)(173.9,62.8)(174.9,56.3)(176,80.6)(177.2,69.3)(179.7,66)(181.8,54.7)(183.8,78.3)(184.9,75.7)(185.8,49.8)(187.9,57.3)(189.9,51.5)(193,79.9)(194,61.2)(196,80.6)(198,43.4)(200.1,46.6)(203.1,40.1)(204.1,43.4)(206.2,39.2)(207.7,45)(210,59.5)(211.5,56.3)(213,51.5)(215.8,41.1)(216.8,48.2)(218.9,50.8)};
\addplot[color=orange!45,line width=1.1pt,unbounded coords=jump] coordinates {(12.9,65.4)(14,88.7)(14,nan)(19,69.3)(20,80.6)(20,nan)(20.9,69.3)(23,70.9)(23,nan)(85.9,51.6)(86.9,79)(86.9,nan)(90,58.1)(92.1,72.6)(94.9,79.7)(94.9,nan)(127.9,74.8)(128.9,76.8)(130.7,85.5)(130.7,nan)(156,69.4)(157.9,74.2)(157.9,nan)(176,80.6)(177.2,69.3)(177.2,nan)(181.8,54.7)(183.8,78.3)(184.9,75.7)(185.8,49.8)(185.8,nan)(191.4,64.4)(193,79.9)(193,nan)(194,61.2)(196,80.6)};
% thick average
\addplot[color=rcy,line width=3.8pt,unbounded coords=jump] coordinates {(26.9,31.4)(28.7,24.9)(30.8,23.6)(30.8,nan)(35.1,16.8)(36.7,17.5)(38.8,38.5)(38.8,nan)(46.8,28.8)(49.5,19.1)(51.1,22.3)(51.9,28.8)(51.9,nan)(54.8,27.2)(56.4,26.2)(57.8,28.2)(57.8,nan)(63.9,43)(65,43.4)(65.8,46.3)(65.8,nan)(69.8,35.3)(71.9,25.6)(73.5,32)(74.9,41.7)(74.9,nan)(79.9,49.4)(81.8,54.8)(84.2,71)(86.7,82.3)(86.7,nan)(92,76.8)(93.2,76.1)(94.9,80.6)(94.9,nan)(102.8,37.1)(104.4,30.6)(105.9,27.4)(105.9,nan)(107.9,23.2)(109.3,21.9)(110.9,29.7)(110.9,nan)(114.9,27.1)(116.2,29)(118.8,51.6)(118.8,nan)(123.9,38.1)(124.8,34.8)(126.1,35.5)(127.9,51.6)(130.7,72.6)(130.7,nan)(136.9,45.2)(138.5,35.5)(140,32.3)(142.8,51.6)(142.8,nan)(146.8,59.7)(148.9,61.3)(148.9,nan)(152,52.3)(154,45.2)(157.9,66.1)(157.9,nan)(163.9,42.6)(166.1,32.3)(167.3,35.5)(169.8,57.4)(169.8,nan)(172.9,69.9)(173.9,73.2)(173.9,nan)(177,75.8)(179,80.6)(179,nan)(182.8,59.5)(185.8,46.6)(185.8,nan)(190.9,29.4)(194,43.3)(194,nan)(202.9,27.2)(205.9,21.8)(205.9,nan)(206.9,21.2)(208.2,26.7)(211,47.2)(211,nan)(216.8,47.2)(218.9,39.1)};
\addplot[color=rrd,line width=3.8pt,unbounded coords=jump] coordinates {(30.8,23.6)(32.9,22.3)(35.1,16.8)(35.1,nan)(38.8,38.5)(40.7,54.7)(42,56.6)(43.6,51.5)(46.8,28.8)(46.8,nan)(51.9,28.8)(53,33.7)(54.8,27.2)(54.8,nan)(57.8,28.2)(58.6,28.8)(60.7,36.9)(63.4,43.4)(63.9,43)(63.9,nan)(65.8,46.3)(67.1,48.2)(69.8,35.3)(69.8,nan)(74.9,41.7)(77.3,53.1)(79.9,49.4)(79.9,nan)(86.7,82.3)(88.9,86.5)(92,76.8)(92,nan)(94.9,80.6)(96,80.6)(97.9,72.6)(100,58.1)(102.8,37.1)(102.8,nan)(105.9,27.4)(107.9,23.2)(107.9,nan)(110.9,29.7)(112.7,33.9)(114.9,27.1)(114.9,nan)(118.8,51.6)(120.2,54.8)(123.9,38.1)(123.9,nan)(130.7,72.6)(132.3,77.4)(133.8,72.6)(136.9,45.2)(136.9,nan)(142.8,51.6)(144.7,62.9)(146.8,59.7)(146.8,nan)(148.9,61.3)(150,61.9)(152,52.3)(152,nan)(157.9,66.1)(159.9,71.6)(161.4,62.9)(163.9,42.6)(163.9,nan)(169.8,57.4)(171.3,64.5)(172.9,69.9)(172.9,nan)(173.9,73.2)(177,75.8)(177,nan)(179,80.6)(180.2,80.3)(182.8,59.5)(182.8,nan)(185.8,46.6)(190.9,29.4)(190.9,nan)(194,43.3)(196.8,54.7)(198,53.1)(202.9,27.2)(202.9,nan)(205.9,21.8)(206.9,21.2)(206.9,nan)(211,47.2)(214,62.8)(216.8,47.2)};
% signals
\addplot[tic={green!50!black}] coordinates {(30,88.6)(36,88.6)(50,88.6)(56,88.6)(65,88.6)(81,88.6)(93,88.6)(109,88.6)(116,88.6)(126,88.6)(140,88.6)(148,88.6)(155,88.6)(167,88.6)(178,88.6)(192,88.6)(208,88.6)(54,10)(63,10)(113,10)(121,10)(207,10)};
\addplot[tic=red] coordinates {(73,88.6)(206,88.6)(32,10)(42,10)(68,10)(78,10)(90,10)(96,10)(133,10)(146,10)(150,10)(160,10)(177,10)(180,10)(198,10)(215,10)};
\addplot[tdn=red] coordinates {(84,89)(85,89)(86,89)(87,89)(129,89)(130,89)(131,89)(158,89)};
\addplot[tdn=dkr] coordinates {(39,89)(83,89)(118,89)(128,89)(157,89)(210,89)};
\addplot[tup=olive] coordinates {(26,12)(69,12)(136,12)};
\addplot[tup={green!50!black}] coordinates {(46,12)(47,12)(70,12)(71,12)};
\end{axis}

%====== CCI PANE
\begin{axis}[tv,at={(10pt,79pt)},anchor=south west,height=102pt,ymin=-118,ymax=562,ytick={0,400},yticklabels={0.00,400.00},
 xticklabels={Aug,\textbf{2018},Apr,Jul,Oct,\textbf{2019},Apr,Jul,Oct,\textbf{2020},Apr,Jul,Oct,\textbf{2021},Apr,Jul,Oct,\textbf{2022}},
 xticklabel style={anchor=center,inner sep=0pt,yshift=-20pt,text=ink,font=\fontsize{19}{21}\selectfont}]
\addplot[draw=none,fill=cciband] coordinates {(-3.5,-98)(231.5,-98)(231.5,97)(-3.5,97)} --cycle;
\addplot[color=black!35,line width=1.3pt] coordinates {(-3.5,0)(231.5,0)};
\addplot[color=red,line width=2.6pt] coordinates {(148.9,-53)(151.2,-58)(154.3,-53)(157.4,-36)(159.2,-40)(161.1,-53)(164.5,-53)(166,-47)(168,-40)(170.8,-42)(171.9,-36)(174.9,-36)(175.9,-18)(177,-18)};
\addplot[color=green!45!black,line width=2.6pt] coordinates {(177,-18)(177.7,9)(178.9,69)(180,31)(182,9)(183,27)(184,124)(184.8,120)(186,31)(187.9,76)(189.9,64)(190.9,98)(192,164)(193,298)(194,198)(194.9,298)(196,491)(196.9,360)(198,93)(198.9,142)(199.9,142)(201,124)(203,64)(204,87)(205.9,49)(207,53)(208,87)(209,102)(210,169)(211,153)(212,142)(213,187)(214,131)(215,116)(215.9,69)(217,98)(218,102)(219,111)};
\addplot[color=orange!90!red,line width=3pt] coordinates {(198,29)(203.1,47)(207.7,49)(211.8,60)(213.8,71)(219,76)};
\addplot[tic=red] coordinates {(216,413)};
\addplot[tic={green!50!black}] coordinates {(217,4)};
\end{axis}

% cut the clipped 2022 label
\fill[white] (2538,{1338-1302}) rectangle (2647,{1338-1260});
% frame
\draw[framec,line width=1.5pt] (10,{1338-27}) -- (2648,{1338-27});
\foreach \yy in {933,1029,1157,1259,1303} \draw[framec,line width=1.5pt] (10,{1338-\yy}) -- (2648,{1338-\yy});
\draw[framec,line width=1.5pt] (10,{1338-27}) -- (10,{1338-1303});
\draw[framec,line width=1.5pt] (2537,{1338-27}) -- (2537,{1338-1303});

% italic labels
\Ital{314}{2959.20}
\Ital{600}{1444.80}
\Ital{791}{435.70}
\Ital{832}{218.80}
% tags
\TagT{118}{94}{ink}{white}{4000.00}
\TagT{382}{94}{ink}{white}{2599.00}
\TagT{534.5}{94}{ink}{white}{1644.56}
\TagT{563.5}{94}{ink}{white}{1644.56}
\TagT{646}{94}{ink}{white}{1151.10}
\TagT{674}{82.5}{magn}{white}{830.00}
\TagT{702.5}{82.5}{red}{white}{702.98}
\TagT{731}{82.5}{black!40}{ink}{624.90}
\fill[tvg] (2537,{1338-797}) rectangle (2638,{1338-745});
\node[anchor=base west,inner sep=0pt,text=white,font=\fontsize{20.5}{22}\selectfont] at (2552,{1338-767}) {606.85};
\node[anchor=base west,inner sep=0pt,text=white!70!tvg,font=\fontsize{20.5}{22}\selectfont] at (2552,{1338-790}) {01:23:37};
\TagT{811}{82.5}{ink}{white}{517.20}
\TagT{839}{82.5}{ink}{white}{332.38}
\TagT{867.5}{82.5}{ink}{white}{104.60}

% legends
\begingroup
\tikzset{every node/.append style={font=\lgfont\fontsize{12.8}{15}\selectfont}}
\T{10}{15}{txt}{readCrypto published on TradingView.com, Oct 17, 2021 22:36 UTC}
\T{18}{42}{txt}{Bitcoin Cash / U.S. Dollar, 1W, KRAKEN}
\T{234}{42}{txt}{O}\T{243}{42}{tvg}{582.90}
\T{285}{42}{txt}{H}\T{293.5}{42}{tvg}{648.20}
\T{336}{42}{txt}{L}\T{343}{42}{tvg}{568.29}
\T{385.5}{42}{txt}{C}\T{393}{42}{tvg}{606.85}
\T{436}{42}{tvg}{+21.26 (+3.63\%)}
\T{18}{59}{txt}{MRHAB-B (, 1M, 60, 1.8)}
\T{154}{59}{red!75}{602.65}
\T{198}{59}{tblue!70}{525.75}
\T{18}{949}{txt}{Volume (26)}
\T{89.5}{949}{bodyg}{27.971K}
\T{139.5}{949}{cyan}{333.409K}
\T{196}{949}{red}{389.946K}
\T{252.6}{949}{green!45!black}{276.871K}
\T{308}{949}{red}{0}
\T{322}{949}{green!45!black}{0}
\T{18}{1044.7}{txt}{wRSI\_SR}
\T{69.5}{1044.7}{blue}{36.81}
\T{106}{1044.7}{black}{22.73}
\T{143}{1044.7}{red}{0.00}
\T{174}{1044.7}{green!45!black}{0.00}
\T{204}{1044.7}{cyan}{41.20}
\T{241}{1044.7}{green!45!black}{0.00}
\T{271.5}{1044.7}{green!45!black}{0.00}
\T{302}{1044.7}{green!45!black}{50.14}
\T{18}{1172.7}{txt}{CCI-RC}
\T{61.4}{1172.7}{green!55!black}{105.02}
\T{104.5}{1172.7}{orange}{71.60}
\T{141}{1172.7}{red}{0.00}
\T{171.6}{1172.7}{green!45!black}{0.00}
\endgroup
% TradingView logo
\fill[ink] (10,{1338-1316}) rectangle (19,{1338-1319.5});
\fill[ink] (14.5,{1338-1319.5}) rectangle (18,{1338-1326});
\fill[ink] (22,{1338-1317.7}) circle (1.9);
\fill[ink] (19.5,{1338-1326}) -- (23.5,{1338-1326}) -- (29.5,{1338-1316}) -- (25.5,{1338-1316}) -- cycle;
\node[anchor=base west,inner sep=0pt,text=txt,font=\lgfont\fontsize{17}{19}\selectfont] at (33,{1338-1326}) {TradingView};
\end{tikzpicture}
\end{document}
